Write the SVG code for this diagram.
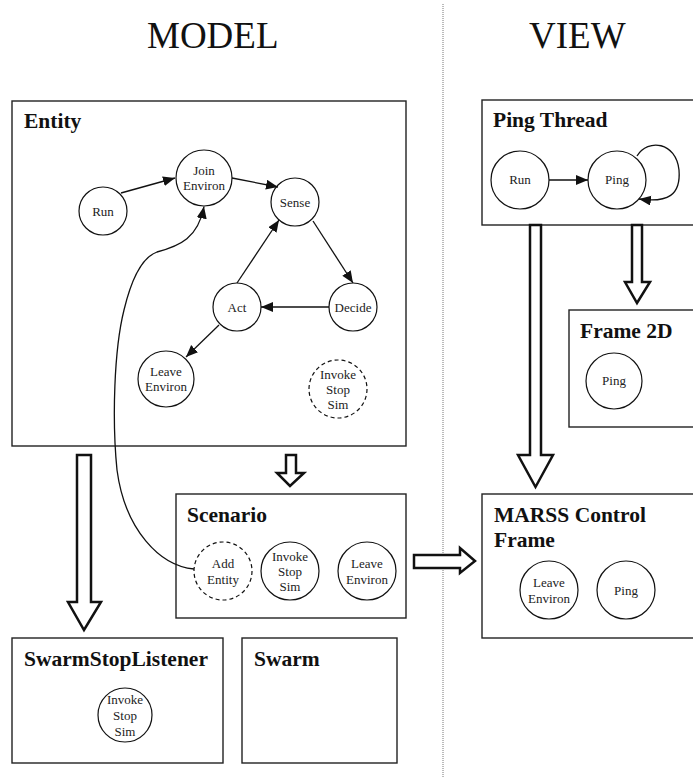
<svg xmlns="http://www.w3.org/2000/svg" width="693" height="778" viewBox="0 0 693 778">
<defs>
<style>
.box{fill:#fff;stroke:#222;stroke-width:1.4}
.c{fill:#fff;stroke:#111;stroke-width:1.2}
.d{fill:#fff;stroke:#111;stroke-width:1.2;stroke-dasharray:4,3}
.t{font-family:"Liberation Serif","Times New Roman",serif;font-size:13px;fill:#222;text-anchor:middle}
.h{font-family:"Liberation Serif","Times New Roman",serif;font-size:21.5px;font-weight:bold;fill:#111}
.big{font-family:"Liberation Serif","Times New Roman",serif;font-size:37px;fill:#111}
.e{fill:none;stroke:#111;stroke-width:1.3}
.blk{fill:#fff;stroke:#111;stroke-width:2.5;stroke-linejoin:miter}
</style>
<marker id="ah" markerUnits="userSpaceOnUse" markerWidth="13" markerHeight="11" refX="12" refY="5" orient="auto">
<path d="M0,0 L12,5 L0,10 z" fill="#111"/>
</marker>
</defs>
<rect width="693" height="778" fill="#fff"/>
<line x1="443" y1="4" x2="443" y2="778" stroke="#777" stroke-width="1" stroke-dasharray="1,1"/>
<text class="big" x="147" y="48">MODEL</text>
<text class="big" x="529" y="48">VIEW</text>

<g id="entity">
<rect class="box" x="12" y="101" width="394" height="345"/>
<text class="h" x="24" y="128">Entity</text>
<g id="e-run"><circle class="c" cx="103" cy="211" r="24"/><text class="t" x="103" y="215.5">Run</text></g>
<g id="e-join"><circle class="c" cx="204" cy="178" r="28"/><text class="t" x="204" y="175">Join</text><text class="t" x="204" y="190">Environ</text></g>
<g id="e-sense"><circle class="c" cx="295" cy="202" r="24"/><text class="t" x="295" y="206.5">Sense</text></g>
<g id="e-decide"><circle class="c" cx="353" cy="307" r="24"/><text class="t" x="353" y="311.5">Decide</text></g>
<g id="e-act"><circle class="c" cx="237" cy="307" r="24"/><text class="t" x="237" y="311.5">Act</text></g>
<g id="e-leave"><circle class="c" cx="166" cy="379" r="28"/><text class="t" x="166" y="376">Leave</text><text class="t" x="166" y="391">Environ</text></g>
<g id="e-invoke"><circle class="d" cx="338" cy="389" r="29"/><text class="t" x="338" y="379">Invoke</text><text class="t" x="338" y="394">Stop</text><text class="t" x="338" y="409">Sim</text></g>
</g>

<g id="scenario">
<rect class="box" x="176" y="494" width="230" height="124"/>
<text class="h" x="187" y="522">Scenario</text>
<g id="s-add"><circle class="d" cx="223" cy="571" r="29"/><text class="t" x="223" y="568">Add</text><text class="t" x="223" y="583.5">Entity</text></g>
<g id="s-invoke"><circle class="c" cx="290" cy="571" r="29"/><text class="t" x="290" y="560.5">Invoke</text><text class="t" x="290" y="575.5">Stop</text><text class="t" x="290" y="590.5">Sim</text></g>
<g id="s-leave"><circle class="c" cx="367" cy="571" r="29"/><text class="t" x="367" y="568">Leave</text><text class="t" x="367" y="583.5">Environ</text></g>
</g>

<g id="swarmstoplistener">
<rect class="box" x="12" y="638" width="211" height="125"/>
<text class="h" x="24" y="666">SwarmStopListener</text>
<g id="ssl-invoke"><circle class="c" cx="125" cy="715" r="27"/><text class="t" x="125" y="704">Invoke</text><text class="t" x="125" y="720">Stop</text><text class="t" x="125" y="735.5">Sim</text></g>
</g>

<g id="swarm">
<rect class="box" x="242" y="638" width="155" height="125"/>
<text class="h" x="254" y="666">Swarm</text>
</g>

<g id="pingthread">
<rect class="box" x="482" y="100" width="222" height="125"/>
<text class="h" x="493" y="127">Ping Thread</text>
<g id="pt-run"><circle class="c" cx="520" cy="180" r="29"/><text class="t" x="520" y="184">Run</text></g>
<g id="pt-ping"><circle class="c" cx="617" cy="180" r="29"/><text class="t" x="617" y="184">Ping</text></g>
</g>

<g id="frame2d">
<rect class="box" x="569" y="310" width="135" height="117"/>
<text class="h" x="580" y="338">Frame 2D</text>
<g id="f-ping"><circle class="c" cx="614" cy="381" r="28"/><text class="t" x="614" y="385">Ping</text></g>
</g>

<g id="marss">
<rect class="box" x="482" y="494" width="222" height="144"/>
<text class="h" x="494" y="522">MARSS Control</text>
<text class="h" x="494" y="547">Frame</text>
<g id="m-leave"><circle class="c" cx="549" cy="590" r="29"/><text class="t" x="549" y="587">Leave</text><text class="t" x="549" y="602.5">Environ</text></g>
<g id="m-ping"><circle class="c" cx="626" cy="590" r="29"/><text class="t" x="626" y="594.5">Ping</text></g>
</g>

<g id="connectors">
<line class="e" x1="121" y1="193" x2="175" y2="178" marker-end="url(#ah)"/>
<line class="e" x1="232" y1="178" x2="278" y2="187" marker-end="url(#ah)"/>
<line class="e" x1="313" y1="221" x2="353" y2="283" marker-end="url(#ah)"/>
<line class="e" x1="329" y1="307" x2="261" y2="307" marker-end="url(#ah)"/>
<line class="e" x1="237" y1="283" x2="279" y2="220" marker-end="url(#ah)"/>
<line class="e" x1="219" y1="325" x2="186" y2="357" marker-end="url(#ah)"/>
<path class="e" stroke-width="1.1" d="M194,569 C160,566 125,530 117,470 C112,420 114,350 124,310 C130,285 140,258 157,252 C180,246 198,238 204,206.5" marker-end="url(#ah)"/>
<line class="e" x1="549" y1="180" x2="588" y2="180" marker-end="url(#ah)"/>
<path class="e" d="M637,156 C648,138 676,142 679,170 C681,195 668,203 639,199" marker-end="url(#ah)"/>
<polygon class="blk" points="286,455 296,455 296,473 304,473 290,486 277,473 286,473"/>
<polygon class="blk" points="77,455 91,455 91,602 101,602 84,630 68,602 77,602"/>
<polygon class="blk" points="632,225 642,225 642,282 650,282 637,303 625,282 632,282"/>
<polygon class="blk" points="530,225 541,225 541,455 553,455 535.5,487 518,455 530,455"/>
<polygon class="blk" points="414,555 460,555 460,548 475,561 460,573 460,568 414,568"/>
</g>
</svg>
